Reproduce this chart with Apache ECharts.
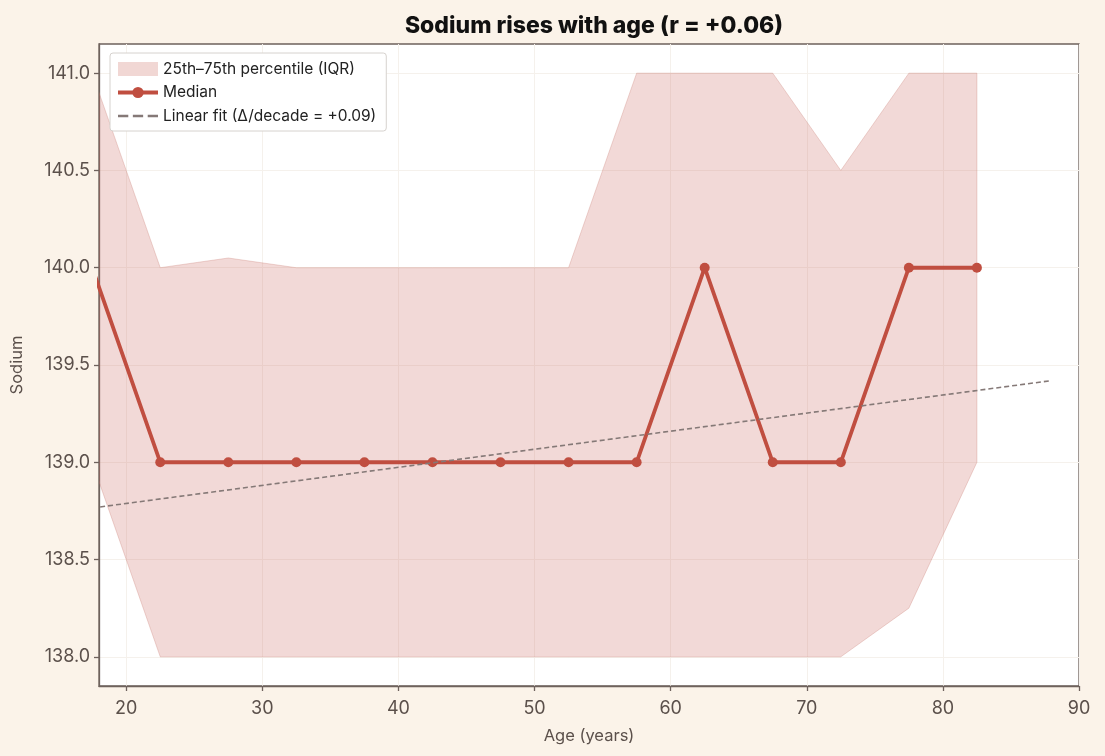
<!DOCTYPE html>
<html>
<head>
	<meta charset="utf-8">
	<title>Sodium vs age</title>
	<script src="https://cdn.jsdelivr.net/npm/echarts@6/dist/echarts.min.js"></script>
	<style>
		html, body { margin: 0; padding: 0; background: #fbf3e9; }
		#main { width: 1105px; height: 756px; }
	</style>
</head>
<body>
	<div id="main"></div>
	<script type="text/javascript">
	// age bin centres (years)
	var ages = [17.5, 22.5, 27.5, 32.5, 37.5, 42.5, 47.5, 52.5, 57.5, 62.5, 67.5, 72.5, 77.5, 82.5];
	// sodium by bin
	var median = [140, 139, 139, 139, 139, 139, 139, 139, 139, 140, 139, 139, 140, 140];
	var q25    = [139, 138, 138, 138, 138, 138, 138, 138, 138, 138, 138, 138, 138.25, 139];
	var q75    = [141, 140, 140.05, 140, 140, 140, 140, 140, 141, 141, 141, 140.5, 141, 141];
	// linear fit end points
	var fitX = [17.5, 88];
	var fitY = [138.765, 139.42];
	// ticks
	var xTicks = [20, 30, 40, 50, 60, 70, 80, 90];
	var yTicks = [138.0, 138.5, 139.0, 139.5, 140.0, 140.5, 141.0];

	var pairs = function (xs, ys) {
		return xs.map(function (x, i) { return [x, ys[i]]; });
	};
	var bandData = ages.map(function (a, i) { return [a, q25[i], q75[i]]; });

	var textCol = '#5b504b';
	var frameCol = '#6e625c';
	var medCol = '#c04e40';
	var fitCol = '#857977';

	// IQR band: one polygon through the upper edge then back along the lower edge
	function renderBand(params, api) {
		if (params.dataIndex !== 0) return;
		var upper = [], lower = [];
		for (var i = 0; i < bandData.length; i++) {
			upper.push(api.coord([bandData[i][0], bandData[i][2]]));
			lower.push(api.coord([bandData[i][0], bandData[i][1]]));
		}
		var cs = params.coordSys;
		return {
			type: 'polygon',
			shape: { points: upper.concat(lower.reverse()) },
			style: { fill: 'rgba(205,110,100,0.26)', stroke: 'rgba(200,120,110,0.3)', lineWidth: 1 },
			clipPath: { type: 'rect', shape: { x: cs.x, y: cs.y, width: cs.width, height: cs.height } }
		};
	}

	var myChart = echarts.init(document.getElementById('main'));
	var option = {
		backgroundColor: '#fbf3e9',
		animation: false,
		title: {
			text: 'Sodium rises with age (r = +0.06)',
			left: 589,
			textAlign: 'center',
			top: 10,
			textStyle: { fontFamily: 'Inter', fontSize: 23, fontWeight: 800, color: '#111' }
		},
		legend: {
			left: 110,
			top: 53,
			orient: 'vertical',
			backgroundColor: '#fff',
			borderColor: '#d6d2ce',
			borderWidth: 1,
			borderRadius: 3,
			padding: [8, 10, 7, 6],
			itemGap: 7.5,
			itemWidth: 40,
			itemHeight: 14,
			textStyle: { fontFamily: 'Inter', fontSize: 15.5, color: '#222' },
			data: [
				{ name: '25th–75th percentile (IQR)', icon: 'rect' },
				{ name: 'Median', lineStyle: { width: 4 } },
				{ name: 'Linear fit (Δ/decade = +0.09)', icon: 'path://M0,0h9v2h-9z M13,0h9v2h-9z M26,0h9v2h-9z' }
			]
		},
		grid: {
			left: 99, right: 26, top: 44, bottom: 70,
			show: true,
			backgroundColor: '#ffffff',
			borderColor: frameCol,
			borderWidth: 1.3
		},
		xAxis: {
			type: 'value',
			min: 18, max: 90,
			name: 'Age (years)',
			nameLocation: 'middle',
			nameGap: 42,
			nameTextStyle: { fontFamily: 'Inter', fontSize: 16.5, color: textCol },
			axisLine: { show: true, lineStyle: { color: frameCol, width: 1.3 } },
			axisTick: { show: true, length: 5, customValues: xTicks, lineStyle: { color: frameCol, width: 1.3 } },
			axisLabel: { customValues: xTicks, fontFamily: 'Inter', fontSize: 18, color: textCol, margin: 14 },
			splitLine: { show: true, lineStyle: { color: '#f5f1ec', width: 1 } }
		},
		yAxis: {
			type: 'value',
			min: 137.85, max: 141.15,
			name: 'Sodium',
			nameLocation: 'middle',
			nameGap: 73,
			nameTextStyle: { fontFamily: 'Inter', fontSize: 16.5, color: textCol },
			axisLine: { show: true, lineStyle: { color: frameCol, width: 1.3 } },
			axisTick: { show: true, length: 5, customValues: yTicks, lineStyle: { color: frameCol, width: 1.3 } },
			axisLabel: {
				customValues: yTicks,
				fontFamily: 'Inter', fontSize: 18, color: textCol, margin: 9,
				formatter: function (v) { return v.toFixed(1); }
			},
			splitLine: { show: true, lineStyle: { color: '#f5f1ec', width: 1 } }
		},
		series: [
			{
				name: '25th–75th percentile (IQR)',
				type: 'custom',
				renderItem: renderBand,
				data: bandData,
				encode: { x: 0, y: [1, 2] },
				itemStyle: { color: 'rgba(205,110,100,0.28)' },
				z: 1
			},
			{
				name: 'Median',
				type: 'line',
				data: pairs(ages, median),
				color: medCol,
				symbol: 'circle',
				symbolSize: 10,
				lineStyle: { color: medCol, width: 3.8 },
				itemStyle: { color: medCol },
				clip: true,
				z: 3
			},
			{
				name: 'Linear fit (Δ/decade = +0.09)',
				type: 'line',
				data: pairs(fitX, fitY),
				color: fitCol,
				symbol: 'none',
				lineStyle: { color: fitCol, width: 1.6, type: [5, 3] },
				clip: true,
				z: 4
			}
		]
	};
	myChart.setOption(option);
	</script>
</body>
</html>
